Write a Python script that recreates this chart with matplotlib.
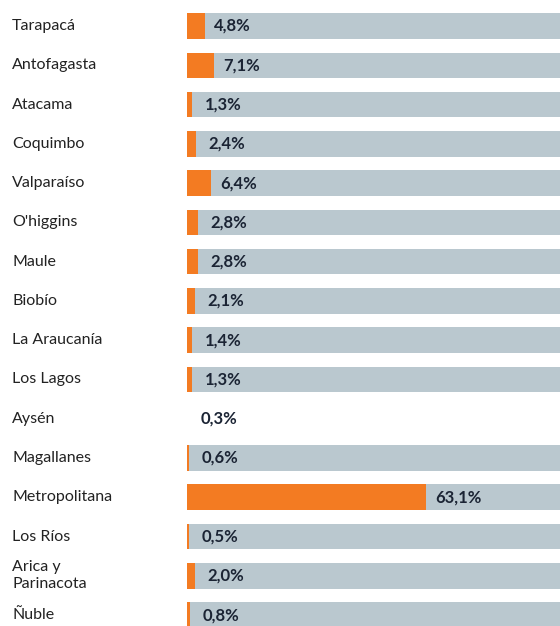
import matplotlib
matplotlib.use("Agg")
import matplotlib.pyplot as plt

regions = ["Tarapacá", "Antofagasta", "Atacama", "Coquimbo", "Valparaíso", "O'higgins",
           "Maule", "Biobío", "La Araucanía", "Los Lagos", "Aysén", "Magallanes",
           "Metropolitana", "Los Ríos", "Arica y\nParinacota", "Ñuble"]
values = [4.8, 7.1, 1.3, 2.4, 6.4, 2.8, 2.8, 2.1, 1.4, 1.3, 0.3, 0.6, 63.1, 0.5, 2.0, 0.8]
labels = ["4,8%", "7,1%", "1,3%", "2,4%", "6,4%", "2,8%", "2,8%", "2,1%", "1,4%", "1,3%",
          "0,3%", "0,6%", "63,1%", "0,5%", "2,0%", "0,8%"]
background = [100, 100, 100, 100, 100, 100, 100, 100, 100, 100, 0, 100, 100, 100, 100, 100]

plt.rcParams['font.family'] = ['Lato', 'DejaVu Sans']

W, H = 560, 626
fig = plt.figure(figsize=(W / 100, H / 100), dpi=100)
x0 = 187 / W
ax = fig.add_axes([x0, 0, 1 - x0, 1])

orange = "#F37B22"
grey = "#BAC8CF"
bh = 0.65
y = list(range(len(regions)))

ax.barh(y, background, height=bh, color=grey, linewidth=0)
# Aysén's tiny bar is not visible in the reference
vis = [v if b > 0 else 0 for v, b in zip(values, background)]
ax.barh(y, vis, height=bh, color=orange, linewidth=0)

px_per_unit = 3.79
for i, (v, lab) in enumerate(zip(values, labels)):
    xt = v + 9 / px_per_unit
    if v < 3:
        xt = max(xt, 12.5 / px_per_unit + v)
    ax.text(xt, i, lab, va="center", ha="left", fontsize=12, fontweight="bold",
            color="#1b2434")

sp = 39.27
top = -26 / sp
bot = (H - 26) / sp
ax.set_ylim(bot, top)
ax.set_xlim(0, (W - 187) / px_per_unit)
ax.axis("off")

for i, r in enumerate(regions):
    fig.text(12 / W, 1 - (26 + sp * i) / H, r, ha="left", va="center", fontsize=11.5,
             color="#222222", linespacing=1.3)

fig.savefig("out.png", dpi=100)
